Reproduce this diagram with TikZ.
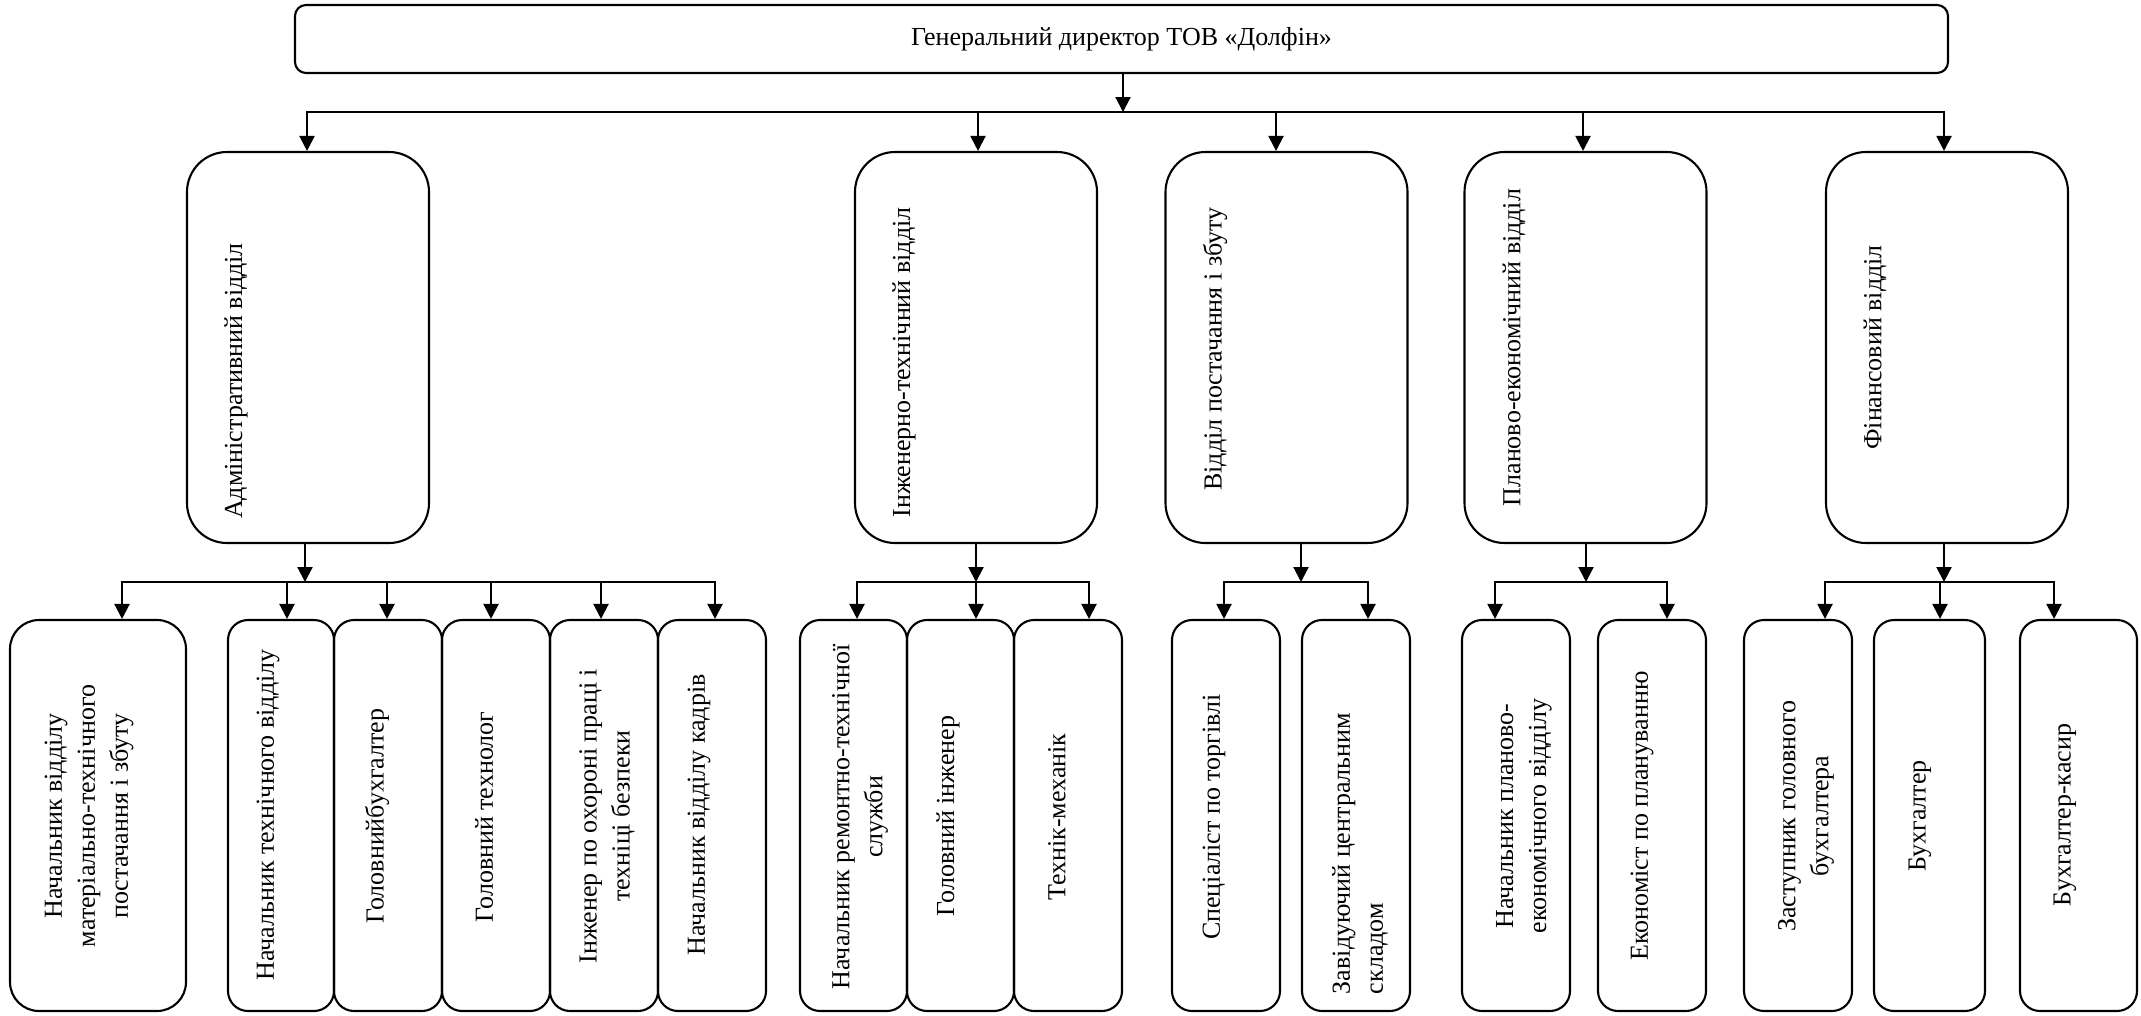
\documentclass[tikz,border=0pt]{standalone}
\usepackage{fontspec}
\setmainfont{Liberation Serif}
\usetikzlibrary{arrows.meta}
\begin{document}
\begin{tikzpicture}[x=1pt,y=-1pt,
  box/.style={draw, line width=2.1pt, inner sep=0pt, rectangle},
  topbox/.style={box, rounded corners=11pt, minimum width=1653pt, minimum height=68pt, font=\fontsize{26}{33}\selectfont},
  deptbox/.style={box, rounded corners=40pt, minimum width=242pt, minimum height=391pt},
  posbox/.style={box, rounded corners=20pt, minimum width=107pt, minimum height=391pt},
  arr/.style={line width=2.1pt, -{Triangle[length=15pt,width=15pt]}},
  busline/.style={line width=2.1pt, line cap=rect},
  txt/.style={font=\fontsize{26}{33}\selectfont, inner sep=0pt, align=center, rotate=90}]
\useasboundingbox (0,0) rectangle (2141,1015);

% top
\node[topbox] (gd) at (1121.5,39) {Генеральний директор ТОВ «Долфін»};

% departments
\node[deptbox] (adm)  at (308,347.5) {};
\node[deptbox] (ing)  at (976,347.5) {};
\node[deptbox] (vid)  at (1286.5,347.5) {};
\node[deptbox] (plan) at (1585.5,347.5) {};
\node[deptbox] (fin)  at (1947,347.5) {};

\node[txt] (admt)  at (236,381)    {Адміністративний відділ};
\node[txt] (ingt)  at (904,362.5)  {Інженерно-технічний відділ};
\node[txt] (vidt)  at (1215,349)   {Відділ постачання і збуту};
\node[txt] (plant) at (1514,347.5) {Планово-економічний відділ};
\node[txt] (fint)  at (1875,347.5) {Фінансовий відділ};

% positions
\node[posbox, minimum width=176pt, rounded corners=29pt] (a1) at (98,815.5) {};
\node[posbox, minimum width=106pt] (a2) at (281,815.5) {};
\node[posbox, minimum width=108pt] (a3) at (388,815.5) {};
\node[posbox, minimum width=108pt] (a4) at (496,815.5) {};
\node[posbox, minimum width=108pt] (a5) at (604,815.5) {};
\node[posbox, minimum width=108pt] (a6) at (712,815.5) {};
\node[posbox] (i1) at (853.5,815.5) {};
\node[posbox] (i2) at (960.5,815.5) {};
\node[posbox, minimum width=108pt] (i3) at (1068,815.5) {};
\node[posbox, minimum width=108pt] (v1) at (1226,815.5) {};
\node[posbox, minimum width=108pt] (v2) at (1356,815.5) {};
\node[posbox, minimum width=108pt] (p1) at (1516,815.5) {};
\node[posbox, minimum width=108pt] (p2) at (1652,815.5) {};
\node[posbox, minimum width=108pt] (f1) at (1798,815.5) {};
\node[posbox, minimum width=111pt] (f2) at (1929.5,815.5) {};
\node[posbox, minimum width=117pt] (f3) at (2078.5,815.5) {};

\node[txt] (a1t) at (89,816)  {Начальник відділу\\матеріально-технічного\\постачання і збуту};
\node[txt] (a2t) at (268,815) {Начальник технічного відділу};
\node[txt] (a3t) at (377,816) {Головнийбухгалтер};
\node[txt] (a4t) at (484,817) {Головний технолог};
\node[txt] (a5t) at (607,816) {Інженер по охороні праці і\\техніці безпеки};
\node[txt] (a6t) at (699,815) {Начальник відділу кадрів};
\node[txt] (i1t) at (860,817) {Начальник ремонтно-технічної\\служби};
\node[txt] (i2t) at (948,816) {Головний інженер};
\node[txt] (i3t) at (1057,817) {Технік-механік};
\node[txt] (v1t) at (1214,817) {Спеціаліст по торгівлі};
\node[txt, align=left] (v2t) at (1360,853.5) {Завідуючий центральним\\складом};
\node[txt] (p1t) at (1524,816) {Начальник планово-\\економічного відділу};
\node[txt] (p2t) at (1642,816) {Економіст по плануванню};
\node[txt] (f1t) at (1806,816) {Заступник головного\\бухгалтера};
\node[txt] (f2t) at (1920,816) {Бухгалтер};
\node[txt] (f3t) at (2065,815) {Бухгалтер-касир};

% level 1 connectors
\coordinate (j0) at (1123,112);
\coordinate (b0L) at (307,112);
\coordinate (b0R) at (1944,112);
\draw[arr] (gd.south -| j0) -- (j0);
\draw[busline] (b0L) -- (b0R);
\coordinate (t1) at (307,112);
\coordinate (t2) at (978,112);
\coordinate (t3) at (1276,112);
\coordinate (t4) at (1583,112);
\coordinate (t5) at (1944,112);
\draw[arr] (t1) -- (t1 |- adm.north);
\draw[arr] (t2) -- (t2 |- ing.north);
\draw[arr] (t3) -- (t3 |- vid.north);
\draw[arr] (t4) -- (t4 |- plan.north);
\draw[arr] (t5) -- (t5 |- fin.north);

% administrative
\coordinate (ja) at (305,582);
\draw[arr] (adm.south -| ja) -- (ja);
\coordinate (ba1) at (122,582);
\coordinate (ba2) at (287,582);
\coordinate (ba3) at (387,582);
\coordinate (ba4) at (491,582);
\coordinate (ba5) at (601,582);
\coordinate (ba6) at (715,582);
\draw[busline] (ba1) -- (ba6);
\draw[arr] (ba1) -- (ba1 |- a1.north);
\draw[arr] (ba2) -- (ba2 |- a2.north);
\draw[arr] (ba3) -- (ba3 |- a3.north);
\draw[arr] (ba4) -- (ba4 |- a4.north);
\draw[arr] (ba5) -- (ba5 |- a5.north);
\draw[arr] (ba6) -- (ba6 |- a6.north);

% engineering
\coordinate (ji) at (976,582);
\draw[arr] (ing.south -| ji) -- (ji);
\coordinate (bi1) at (857,582);
\coordinate (bi2) at (976,582);
\coordinate (bi3) at (1089,582);
\draw[busline] (bi1) -- (bi3);
\draw[arr] (bi1) -- (bi1 |- i1.north);
\draw[arr] (bi2) -- (bi2 |- i2.north);
\draw[arr] (bi3) -- (bi3 |- i3.north);

% supply
\coordinate (jv) at (1301,582);
\draw[arr] (vid.south -| jv) -- (jv);
\coordinate (bv1) at (1224,582);
\coordinate (bv2) at (1368,582);
\draw[busline] (bv1) -- (bv2);
\draw[arr] (bv1) -- (bv1 |- v1.north);
\draw[arr] (bv2) -- (bv2 |- v2.north);

% planning
\coordinate (jp) at (1586,582);
\draw[arr] (plan.south -| jp) -- (jp);
\coordinate (bp1) at (1495,582);
\coordinate (bp2) at (1667,582);
\draw[busline] (bp1) -- (bp2);
\draw[arr] (bp1) -- (bp1 |- p1.north);
\draw[arr] (bp2) -- (bp2 |- p2.north);

% finance
\coordinate (jf) at (1944,582);
\draw[arr] (fin.south -| jf) -- (jf);
\coordinate (bf1) at (1825,582);
\coordinate (bf2) at (1940,582);
\coordinate (bf3) at (2054,582);
\draw[busline] (bf1) -- (bf3);
\draw[arr] (bf1) -- (bf1 |- f1.north);
\draw[arr] (bf2) -- (bf2 |- f2.north);
\draw[arr] (bf3) -- (bf3 |- f3.north);
\end{tikzpicture}
\end{document}
